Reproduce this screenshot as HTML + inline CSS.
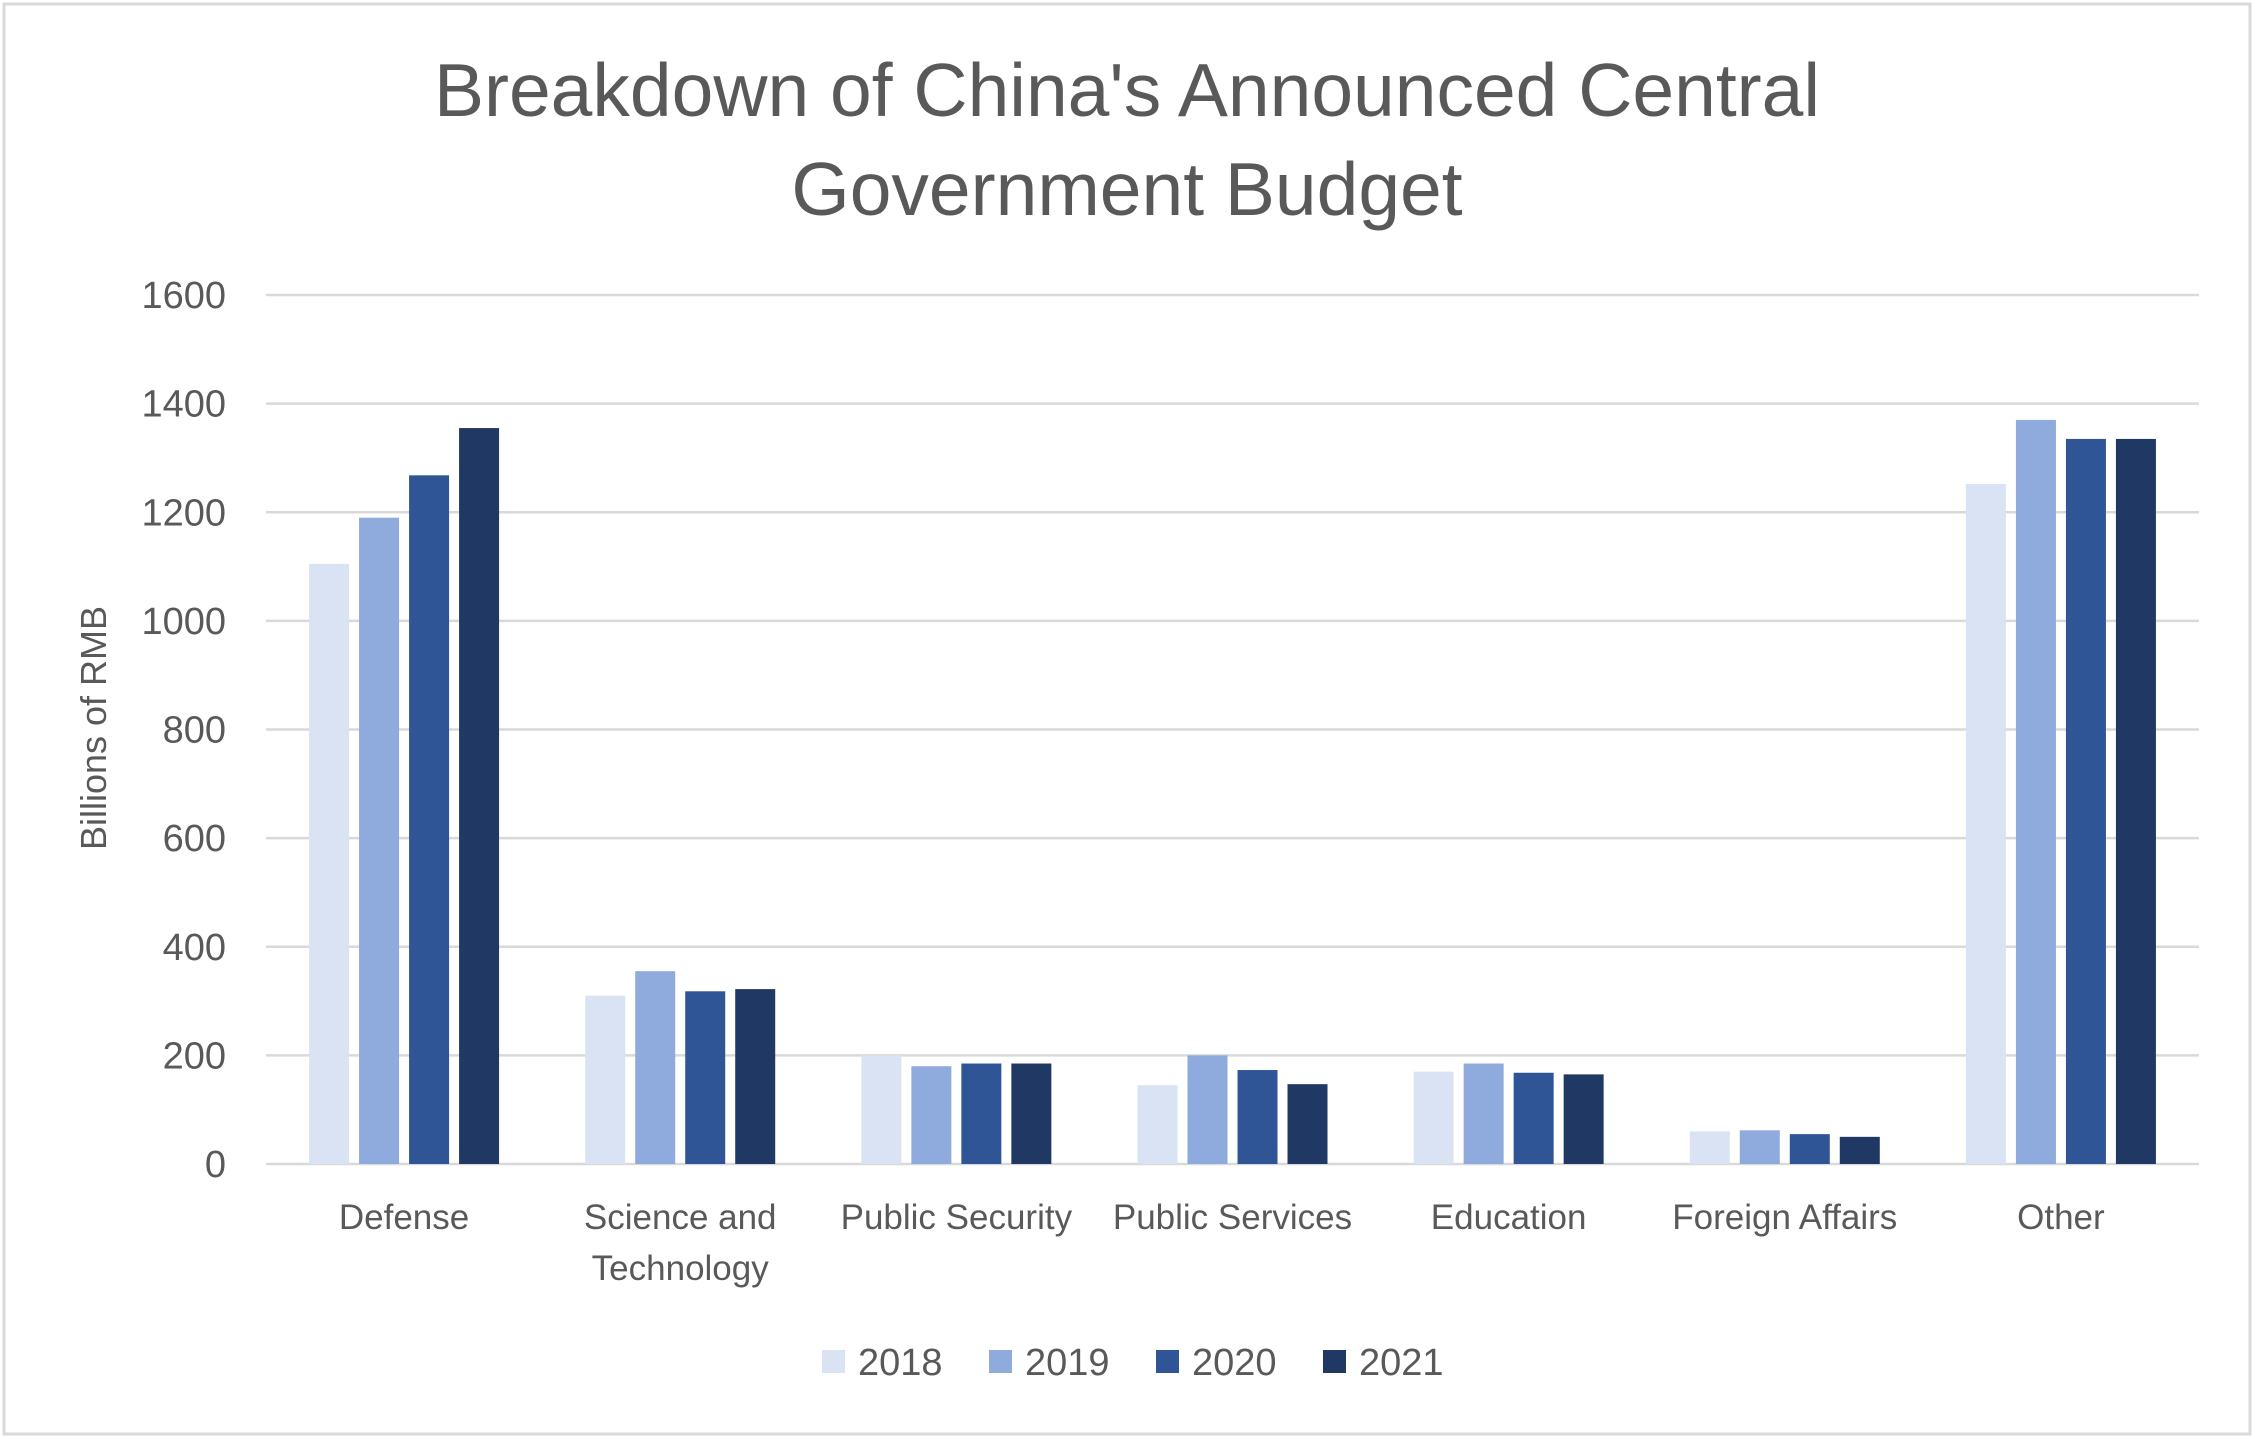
<!DOCTYPE html>
<html><head><meta charset="utf-8"><style>
html,body{margin:0;padding:0;background:#fff;}
svg{display:block;font-family:"Liberation Sans",sans-serif;}
</style></head><body>
<svg id="chart" width="2255" height="1439" viewBox="0 0 2255 1439">
<rect x="4" y="4" width="2246" height="1430" fill="#fff" stroke="#d9d9d9" stroke-width="3"/>
<text x="1127" y="116" text-anchor="middle" font-size="75" fill="#595959">Breakdown of China's Announced Central</text>
<text x="1127" y="215" text-anchor="middle" font-size="75" fill="#595959">Government Budget</text>
<text transform="translate(106,728) rotate(-90)" text-anchor="middle" font-size="36" fill="#595959">Billions of RMB</text>
<g id="grid"></g><g id="bars"></g><g id="labels"></g><g id="legend"></g>
</svg>
<script>
const categories = [["Defense"],["Science and","Technology"],["Public Security"],["Public Services"],["Education"],["Foreign Affairs"],["Other"]];
const years = ["2018","2019","2020","2021"];
const colors = ["#dae3f3","#8faadc","#2f5597","#203864"];
const v2018 = [1105,310,200,145,170,60,1252];
const v2019 = [1190,355,180,200,185,62,1370];
const v2020 = [1268,318,185,173,168,55,1335];
const v2021 = [1355,322,185,147,165,50,1335];
const yTicks = [0,200,400,600,800,1000,1200,1400,1600];
const series = [v2018,v2019,v2020,v2021];

const NS="http://www.w3.org/2000/svg";
const left=266,right=2199,y0=1164,yTop=295,yMax=1600;
const catW=(right-left)/categories.length;
const barW=40,barGap=10;
function yScale(v){return y0-(v/yMax)*(y0-yTop);}
function xCat(i){return left+i*catW;}
function mk(tag,attrs,parent){const e=document.createElementNS(NS,tag);for(const k in attrs)e.setAttribute(k,attrs[k]);parent.appendChild(e);return e;}

const grid=document.getElementById('grid');
yTicks.forEach(t=>{
  const l=mk('line',{x1:left,x2:right,y1:yScale(t),y2:yScale(t),stroke:'#d9d9d9','stroke-width':2.5},grid);
  
  
  const tx=mk('text',{x:226,y:yScale(t)+13,'text-anchor':'end','font-size':38,fill:'#595959'},grid);
  tx.textContent=t;
  
  
});

const bars=document.getElementById('bars');
const groupW=4*barW+3*barGap;
series.forEach((vals,s)=>{
  vals.forEach((v,i)=>{
    const x=xCat(i)+(catW-groupW)/2+s*(barW+barGap);
    const r=mk('rect',{x:x,y:yScale(v),width:barW,height:y0-yScale(v),fill:colors[s]},bars);
    
    
  });
});

const labels=document.getElementById('labels');
categories.forEach((c,i)=>{
  c.forEach((line,j)=>{
    const t=mk('text',{x:xCat(i)+catW/2,y:1229+j*51,'text-anchor':'middle','font-size':35,fill:'#595959'},labels);
    t.textContent=line;
    
    
  });
});

const legend=document.getElementById('legend');
years.forEach((yr,s)=>{
  const x=822+s*167;
  const r=mk('rect',{x:x,y:1350,width:23,height:23,fill:colors[s]},legend);
  
  
  const t=mk('text',{x:x+36,y:1375,'font-size':38,fill:'#595959'},legend);
  t.textContent=yr;
  
  
});
</script>
</body></html>
